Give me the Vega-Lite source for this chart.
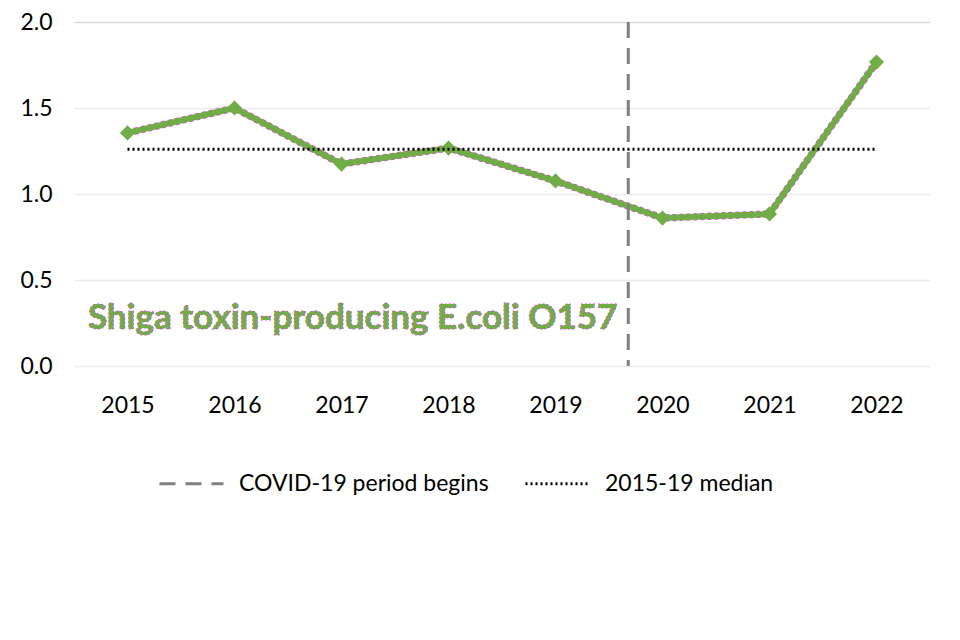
{
  "$schema": "https://vega.github.io/schema/vega-lite/v6.json",
  "autosize": "none",
  "width": 856,
  "height": 344,
  "padding": {"left": 74, "top": 22, "right": 30, "bottom": 274},
  "background": "white",
  "config": {
    "view": {"stroke": null},
    "font": "Lato"
  },
  "datasets": {
    "rates": [
      {"year": 2015, "value": 1.355},
      {"year": 2016, "value": 1.50},
      {"year": 2017, "value": 1.174},
      {"year": 2018, "value": 1.267},
      {"year": 2019, "value": 1.076},
      {"year": 2020, "value": 0.86},
      {"year": 2021, "value": 0.884},
      {"year": 2022, "value": 1.767}
    ],
    "median": [
      {"start": 2015, "end": 2022, "value": 1.26, "series": "2015-19 median"}
    ],
    "covid": [
      {"year": 2019.68, "series": "COVID-19 period begins"}
    ],
    "label": [
      {"year": 2014.63, "value": 0.28, "text": "Shiga toxin-producing E.coli O157"}
    ]
  },
  "layer": [
    {
      "data": {"name": "rates"},
      "mark": {"type": "line", "color": "#e040e0", "strokeWidth": 7.2, "strokeDash": [4, 3]},
      "encoding": {
        "x": {
          "field": "year", "type": "quantitative",
          "scale": {"domain": [2014.5, 2022.5], "nice": false, "zero": false},
          "axis": {
            "title": null, "values": [2015, 2016, 2017, 2018, 2019, 2020, 2021, 2022],
            "format": "d", "grid": false, "ticks": false, "domain": false,
            "labelFontSize": 23, "labelColor": "#000000", "labelPadding": 28
          }
        },
        "y": {
          "field": "value", "type": "quantitative",
          "scale": {"domain": [0, 2], "nice": false},
          "axis": {
            "title": null, "values": [0, 0.5, 1, 1.5, 2], "format": ".1f",
            "ticks": false, "domain": false,
            "labelFontSize": 23, "labelColor": "#000000", "labelPadding": 22,
            "gridColor": {"condition": {"test": "datum.value == 2", "value": "#d9d9d9"}, "value": "#ebebeb"},
            "gridWidth": 1.5
          }
        }
      }
    },
    {
      "data": {"name": "rates"},
      "mark": {"type": "line", "color": "#70AD47", "strokeWidth": 6},
      "encoding": {
        "x": {"field": "year", "type": "quantitative"},
        "y": {"field": "value", "type": "quantitative"}
      }
    },
    {
      "data": {"name": "rates"},
      "mark": {"type": "point", "shape": "diamond", "filled": true, "color": "#70AD47", "size": 230, "opacity": 1},
      "encoding": {
        "x": {"field": "year", "type": "quantitative"},
        "y": {"field": "value", "type": "quantitative"}
      }
    },
    {
      "data": {"name": "median"},
      "mark": {"type": "rule", "strokeWidth": 3},
      "encoding": {
        "x": {"field": "start", "type": "quantitative"},
        "x2": {"field": "end"},
        "y": {"field": "value", "type": "quantitative"},
        "color": {
          "field": "series", "type": "nominal",
          "scale": {"domain": ["COVID-19 period begins", "2015-19 median"], "range": ["#808080", "#000000"]},
          "legend": {
            "title": null, "orient": "none", "legendX": 84, "legendY": 428,
            "direction": "horizontal", "symbolType": "stroke", "symbolSize": 4096,
            "symbolStrokeWidth": 3, "labelFontSize": 23, "labelColor": "#000000",
            "labelOffset": 14, "columnPadding": 30, "labelLimit": 400
          }
        },
        "strokeDash": {
          "field": "series", "type": "nominal",
          "scale": {"domain": ["COVID-19 period begins", "2015-19 median"], "range": [[16, 10], [2, 3]]},
          "legend": {
            "title": null, "orient": "none", "legendX": 84, "legendY": 428,
            "direction": "horizontal", "symbolType": "stroke", "symbolSize": 4096,
            "symbolStrokeWidth": 3, "labelFontSize": 23, "labelColor": "#000000",
            "labelOffset": 14, "columnPadding": 30, "labelLimit": 400
          }
        }
      }
    },
    {
      "data": {"name": "covid"},
      "mark": {"type": "rule", "strokeWidth": 3},
      "encoding": {
        "x": {"field": "year", "type": "quantitative"},
        "color": {"field": "series", "type": "nominal"},
        "strokeDash": {"field": "series", "type": "nominal"}
      }
    },
    {
      "data": {"name": "label"},
      "mark": {"type": "text", "align": "left", "baseline": "middle", "fontSize": 35, "fontWeight": "bold", "color": "#e040e0", "stroke": "#e040e0", "strokeWidth": 1.2, "strokeDash": [2, 2]},
      "encoding": {
        "x": {"field": "year", "type": "quantitative"},
        "y": {"field": "value", "type": "quantitative"},
        "text": {"field": "text"}
      }
    },
    {
      "data": {"name": "label"},
      "mark": {"type": "text", "align": "left", "baseline": "middle", "fontSize": 35, "fontWeight": "bold", "color": "#70AD47"},
      "encoding": {
        "x": {"field": "year", "type": "quantitative"},
        "y": {"field": "value", "type": "quantitative"},
        "text": {"field": "text"}
      }
    }
  ]
}
